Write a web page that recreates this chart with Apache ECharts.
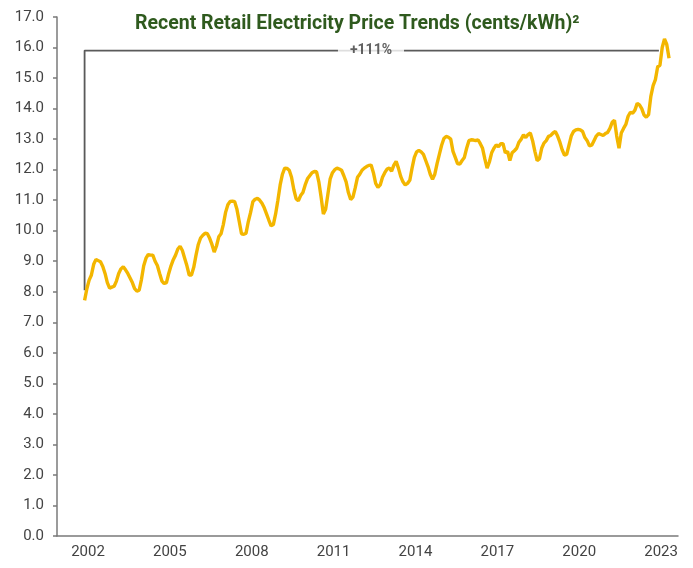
<!DOCTYPE html>
<html>
<head>
<meta charset="utf-8">
<script src="https://cdn.jsdelivr.net/npm/echarts@6/dist/echarts.min.js"></script>
<style>
html,body{margin:0;padding:0;background:#fff;}
#chart{width:693px;height:568px;}
</style>
</head>
<body>
<div id="chart"></div>
<script>
// Monthly retail electricity price (cents/kWh), first point ~ late 2001
const firstMonthYear = 2001.875;
const prices = [
  7.72, 8.10, 8.38, 8.55, 8.90, 9.06, 9.02, 8.98, 8.83, 8.60, 8.30, 8.12,
  8.15, 8.18, 8.35, 8.60, 8.75, 8.82, 8.72, 8.60, 8.45, 8.30, 8.10, 8.02,
  8.05, 8.40, 8.85, 9.10, 9.22, 9.20, 9.20, 9.00, 8.86, 8.60, 8.35, 8.27,
  8.30, 8.60, 8.85, 9.05, 9.20, 9.40, 9.49, 9.35, 9.10, 8.85, 8.55, 8.55,
  8.80, 9.20, 9.55, 9.76, 9.85, 9.92, 9.90, 9.75, 9.55, 9.30, 9.50, 9.80,
  9.90, 10.20, 10.60, 10.85, 10.96, 10.97, 10.95, 10.70, 10.30, 9.90, 9.88, 9.92,
  10.30, 10.60, 10.95, 11.03, 11.06, 11.00, 10.90, 10.75, 10.55, 10.35, 10.16, 10.20,
  10.55, 11.00, 11.50, 11.85, 12.05, 12.04, 11.98, 11.75, 11.35, 11.05, 10.98, 11.15,
  11.25, 11.50, 11.70, 11.80, 11.90, 11.94, 11.93, 11.60, 11.10, 10.55, 10.70, 11.20,
  11.70, 11.90, 12.00, 12.05, 12.02, 11.98, 11.80, 11.60, 11.25, 11.02, 11.10, 11.40,
  11.75, 11.85, 11.98, 12.05, 12.10, 12.14, 12.15, 11.90, 11.55, 11.42, 11.50, 11.75,
  11.90, 12.02, 12.05, 11.95, 12.15, 12.27, 12.05, 11.78, 11.60, 11.50, 11.55, 11.65,
  12.05, 12.40, 12.58, 12.63, 12.58, 12.50, 12.30, 12.10, 11.85, 11.68, 11.85, 12.20,
  12.50, 12.80, 13.02, 13.09, 13.06, 13.00, 12.60, 12.40, 12.20, 12.18, 12.30, 12.40,
  12.70, 12.95, 12.98, 12.97, 12.95, 12.98, 12.85, 12.70, 12.35, 12.05, 12.25, 12.55,
  12.70, 12.81, 12.75, 12.85, 12.85, 12.55, 12.60, 12.30, 12.55, 12.62, 12.70, 12.90,
  13.00, 13.14, 13.05, 13.15, 13.20, 12.95, 12.60, 12.30, 12.35, 12.70, 12.87, 12.95,
  13.09, 13.12, 13.20, 13.25, 13.10, 12.90, 12.65, 12.48, 12.50, 12.80, 13.10, 13.25,
  13.30, 13.32, 13.30, 13.25, 13.05, 12.95, 12.78, 12.80, 12.95, 13.10, 13.18, 13.15,
  13.12, 13.18, 13.22, 13.35, 13.55, 13.62, 13.10, 12.70, 13.20, 13.35, 13.48, 13.75,
  13.88, 13.85, 13.95, 14.17, 14.12, 14.00, 13.79, 13.72, 13.80, 14.40, 14.75, 14.95,
  15.37, 15.42, 16.00, 16.28, 16.10, 15.65
];
const yearLabels = [2002, 2005, 2008, 2011, 2014, 2017, 2020, 2023];
const bracketLow = 8.05;
const bracketHigh = 15.9;
const bracketEndYear = 2022.92;
const bracketText = '+111%';
const bracketLabelYear = 2012.37;
const titleText = 'Recent Retail Electricity Price Trends (cents/kWh)\u00B2';

const lineData = prices.map((v, i) => [firstMonthYear + i / 12, v]);

const chart = echarts.init(document.getElementById('chart'), null, {renderer: 'canvas'});
const axisGray = '#7a7a7a';
const labelColor = '#434343';
const font = 'Roboto, "Noto Sans", sans-serif';

chart.setOption({
  animation: false,
  backgroundColor: '#ffffff',
  title: {
    text: titleText,
    left: 130,
    top: 9,
    textStyle: {
      fontFamily: font,
      fontSize: 19.5,
      fontWeight: 'bold',
      color: '#2f5a1e'
    }
  },
  grid: {left: 57, right: 15, top: 17, bottom: 32, containLabel: false},
  xAxis: {
    type: 'value',
    min: 2000.864,
    max: 2023.62,
    axisLine: {show: true, lineStyle: {color: axisGray, width: 1.5}},
    axisTick: {show: false},
    splitLine: {show: false},
    axisLabel: {
      customValues: yearLabels,
      formatter: v => String(Math.round(v)),
      color: labelColor,
      fontFamily: font,
      fontSize: 15,
      margin: 9
    }
  },
  yAxis: {
    type: 'value',
    min: 0,
    max: 17,
    interval: 1,
    axisLine: {show: true, lineStyle: {color: axisGray, width: 1.5}},
    axisTick: {show: true, inside: false, length: 4, lineStyle: {color: axisGray, width: 1.5}},
    splitLine: {show: false},
    axisLabel: {
      formatter: v => v.toFixed(1),
      color: labelColor,
      fontFamily: font,
      fontSize: 15,
      margin: 13
    }
  },
  series: [
    {
      type: 'line',
      data: [[firstMonthYear, bracketLow], [firstMonthYear, bracketHigh], [bracketEndYear, bracketHigh]],
      showSymbol: false,
      symbol: 'none',
      lineStyle: {color: '#5a5a5a', width: 1.8},
      z: 1,
      silent: true
    },
    {
      type: 'scatter',
      data: [[bracketLabelYear, bracketHigh]],
      symbolSize: 1,
      itemStyle: {color: 'rgba(0,0,0,0)'},
      label: {
        show: true,
        position: 'inside',
        formatter: bracketText,
        backgroundColor: '#ffffff',
        padding: [3, 12],
        color: '#3a3a3a',
        fontFamily: font,
        fontSize: 14,
        fontWeight: 'bold'
      },
      z: 3,
      silent: true
    },
    {
      type: 'line',
      data: lineData,
      showSymbol: false,
      symbol: 'none',
      lineStyle: {color: '#F3B600', width: 3.4},
      z: 4
    }
  ]
});
</script>
</body>
</html>
